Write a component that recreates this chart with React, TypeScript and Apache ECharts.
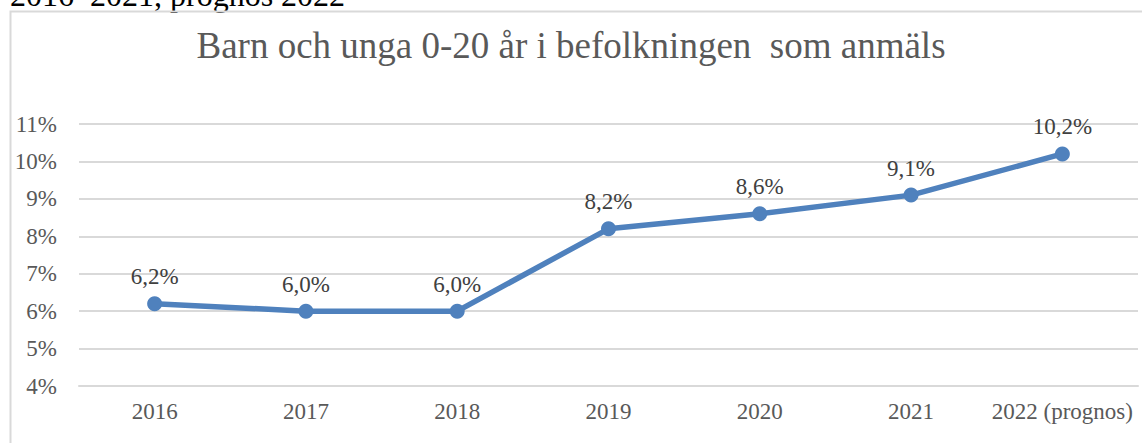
import React, { useEffect, useRef } from "react";
import * as echarts from "echarts";

const categories = ["2016", "2017", "2018", "2019", "2020", "2021", "2022 (prognos)"];
const values = [6.2, 6.0, 6.0, 8.2, 8.6, 9.1, 10.2];
const titleText = "Barn och unga 0-20 år i befolkningen  som anmäls";
const captionText = "2016–2021, prognos 2022";

const FONT = "Liberation Serif";

export default function App() {
  const ref = useRef<HTMLDivElement>(null);
  useEffect(() => {
    if (!ref.current) return;
    const chart = echarts.init(ref.current, undefined, { renderer: "svg" });
    chart.setOption({
      animation: false,
      backgroundColor: "#ffffff",
      title: {
        text: titleText,
        left: "center",
        top: 22,
        textStyle: { fontFamily: FONT, fontSize: 37, fontWeight: "normal", color: "#595959" },
      },
      graphic: [
        {
          type: "rect",
          shape: { x: 10.5, y: 11.5, width: 1200, height: 500 },
          style: { fill: "none", stroke: "#d9d9d9", lineWidth: 2 },
          silent: true,
        },
        {
          type: "text",
          x: 10,
          y: 11,
          style: {
            text: captionText,
            fontFamily: FONT,
            fontSize: 32,
            fill: "#000000",
            verticalAlign: "bottom",
          },
          silent: true,
          z: -1,
        },
      ],
      grid: { left: 79, right: 4, top: 124, bottom: 57, containLabel: false },
      xAxis: {
        type: "category",
        data: categories,
        boundaryGap: true,
        axisLine: { show: true, lineStyle: { color: "#d9d9d9", width: 2 } },
        axisTick: { show: false },
        axisLabel: { fontFamily: FONT, fontSize: 23, color: "#595959", margin: 14, interval: 0 },
      },
      yAxis: {
        type: "value",
        min: 4,
        max: 11,
        interval: 1,
        axisLine: { show: false },
        axisTick: { show: false },
        axisLabel: { fontFamily: FONT, fontSize: 23, color: "#595959", margin: 22, formatter: "{value}%" },
        splitLine: { lineStyle: { color: "#d9d9d9", width: 2 } },
      },
      series: [
        {
          type: "line",
          data: values,
          symbol: "circle",
          symbolSize: 15,
          lineStyle: { color: "#4f81bd", width: 5.5 },
          itemStyle: { color: "#4f81bd" },
          label: {
            show: true,
            position: "top",
            distance: 8,
            fontFamily: FONT,
            fontSize: 23,
            color: "#404040",
            formatter: (p: any) => p.value.toFixed(1).replace(".", ",") + "%",
          },
        },
      ],
    });
    return () => chart.dispose();
  }, []);
  return <div ref={ref} style={{ position: "fixed", left: 0, top: 0, width: 1142, height: 443 }} />;
}
